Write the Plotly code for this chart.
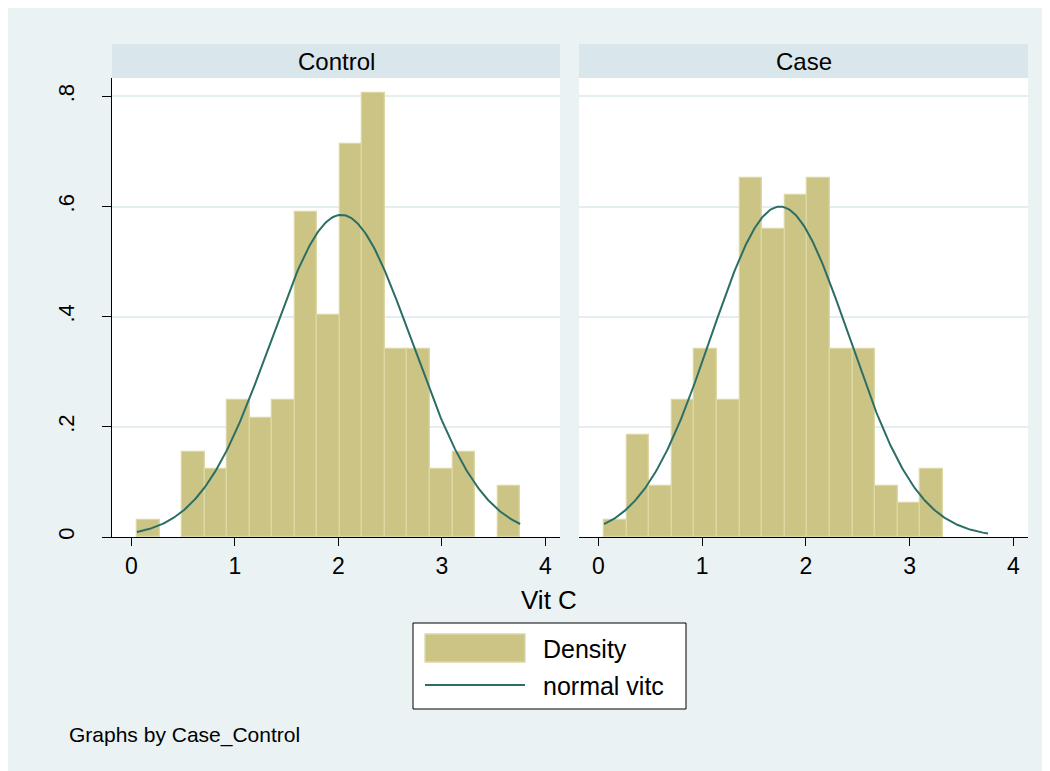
import numpy as np
import plotly.graph_objects as go

# ---------------- data ----------------
panels = ["Control", "Case"]
bin_centers = [0.163, 0.381, 0.598, 0.816, 1.034, 1.251, 1.469, 1.687, 1.904,
               2.122, 2.340, 2.558, 2.775, 2.993, 3.211, 3.428, 3.646]
bin_width = 0.2177
density_control = [0.031, 0.0, 0.155, 0.124, 0.248, 0.217, 0.248, 0.590, 0.404,
                   0.714, 0.807, 0.342, 0.342, 0.124, 0.155, 0.0, 0.093]
density_case = [0.031, 0.186, 0.093, 0.248, 0.342, 0.248, 0.652, 0.559, 0.621,
                0.652, 0.342, 0.342, 0.093, 0.062, 0.124, 0.0, 0.0]
normal_mean = {"Control": 2.027, "Case": 1.75}
normal_sd = {"Control": 0.682, "Case": 0.665}
vitc_min, vitc_max = 0.054, 3.755
x_ticks = [0, 1, 2, 3, 4]
y_ticks = [0, 0.2, 0.4, 0.6, 0.8]
y_ticktext = ["0", ".2", ".4", ".6", ".8"]

# ---------------- style ----------------
OFF = 8  # page body margin
W, H = 1050 - OFF, 771 - OFF
L, R, T, B = 112 - OFF, 22, 78 - OFF, 234
PW = W - L - R
PH = H - T - B
BG = "#EAF2F3"
STRIP = "#D9E6EB"
BAR = "#CBC485"
BAR_LINE = "#DCD8A6"
CURVE = "#2B6E66"
FONT = "Liberation Sans, Arial, Helvetica, sans-serif"


def px(xpix):
    return (xpix - OFF - L) / PW


def py(ypix):
    return (H - B - (ypix - OFF)) / PH


dom1 = [0.0, px(560)]
dom2 = [px(579), 1.0]

fig = go.Figure()
dens = {"Control": density_control, "Case": density_case}
for i, p in enumerate(panels):
    xa = "x" if i == 0 else "x2"
    ya = "y" if i == 0 else "y2"
    yvals = [v if v > 0 else None for v in dens[p]]
    fig.add_trace(go.Bar(
        x=bin_centers, y=yvals, width=bin_width, name="Density",
        marker=dict(color=BAR, line=dict(color=BAR_LINE, width=1.3)),
        xaxis=xa, yaxis=ya, showlegend=False, hoverinfo="x+y"))
    xs = np.linspace(vitc_min, vitc_max, 300)
    m, s = normal_mean[p], normal_sd[p]
    ys = np.exp(-0.5 * ((xs - m) / s) ** 2) / (s * np.sqrt(2 * np.pi))
    fig.add_trace(go.Scatter(
        x=xs, y=ys, mode="lines", name="normal vitc",
        line=dict(color=CURVE, width=2), xaxis=xa, yaxis=ya,
        showlegend=False))

xaxis_common = dict(
    range=[-0.187, 4.14], tickvals=x_ticks, ticks="outside", ticklen=8,
    tickwidth=1, tickcolor="black", showline=True, linecolor="black",
    linewidth=1.2, showgrid=False, zeroline=False, ticklabelstandoff=0,
    tickfont=dict(family=FONT, size=23, color="black"))
yaxis_common = dict(
    range=[0, 0.8335], tickvals=y_ticks, showgrid=True, gridcolor="#E4EDF0",
    gridwidth=1.5, zeroline=False)

fig.update_layout(
    width=W, height=H,
    margin=dict(l=L, r=R, t=T, b=B),
    paper_bgcolor=BG, plot_bgcolor="white",
    bargap=0, showlegend=False,
    font=dict(family=FONT, color="black"),
    xaxis=dict(domain=dom1, anchor="y", **xaxis_common),
    xaxis2=dict(domain=dom2, anchor="y2", **xaxis_common),
    yaxis=dict(anchor="x", ticktext=y_ticktext, ticks="outside", ticklen=9,
               tickcolor="black", showline=True, linecolor="black",
               linewidth=1.2, tickangle=-90, ticklabelstandoff=19,
               tickfont=dict(family=FONT, size=22, color="black"),
               **yaxis_common),
    yaxis2=dict(anchor="x2", showticklabels=False, showline=False,
                ticks="", **yaxis_common),
)

shapes = []
annotations = []
for dom, title in [(dom1, panels[0]), (dom2, panels[1])]:
    shapes.append(dict(type="rect", xref="paper", yref="paper",
                       x0=dom[0], x1=dom[1], y0=1.0, y1=py(44),
                       fillcolor=STRIP, line=dict(width=0)))
    annotations.append(dict(text=title, xref="paper", yref="paper",
                            x=(dom[0] + dom[1]) / 2, y=py(61),
                            xanchor="center", yanchor="middle",
                            showarrow=False,
                            font=dict(family=FONT, size=24, color="black")))

# axis title
annotations.append(dict(text="Vit C", xref="paper", yref="paper",
                        x=px(549), y=py(600), xanchor="center",
                        yanchor="middle", showarrow=False,
                        font=dict(family=FONT, size=26, color="black")))
# legend (drawn manually)
shapes += [
    dict(type="rect", xref="paper", yref="paper", x0=px(413), x1=px(686),
         y0=py(709), y1=py(623), fillcolor="white",
         line=dict(color="black", width=1)),
    dict(type="rect", xref="paper", yref="paper", x0=px(425), x1=px(525),
         y0=py(662), y1=py(634), fillcolor=BAR,
         line=dict(color=BAR_LINE, width=1.3)),
    dict(type="line", xref="paper", yref="paper", x0=px(425), x1=px(525),
         y0=py(685), y1=py(685), line=dict(color=CURVE, width=2)),
]
annotations += [
    dict(text="Density", xref="paper", yref="paper", x=px(541), y=py(649),
         xanchor="left", yanchor="middle", showarrow=False,
         font=dict(family=FONT, size=25, color="black")),
    dict(text="normal vitc", xref="paper", yref="paper", x=px(541),
         y=py(686), xanchor="left", yanchor="middle", showarrow=False,
         font=dict(family=FONT, size=25, color="black")),
    dict(text="Graphs by Case_Control", xref="paper", yref="paper",
         x=px(67), y=py(735), xanchor="left", yanchor="middle",
         showarrow=False, font=dict(family=FONT, size=21, color="black")),
]
fig.update_layout(shapes=shapes, annotations=annotations)

fig.write_html("out.html")
